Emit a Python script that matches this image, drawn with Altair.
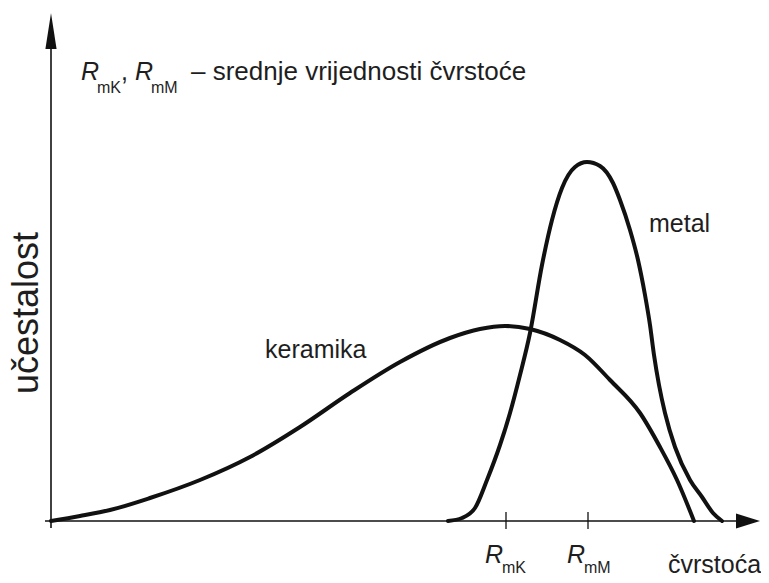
import altair as alt
import pandas as pd

# --- data (x: čvrstoća units, y: učestalost units) ---
ker_x = [0, 29, 59, 99, 149, 199, 249, 299, 349, 399, 429, 454, 479, 509, 534, 559, 589, 609, 626, 643]
ker_y = [0, 5, 11, 23, 41, 64, 94, 128, 159, 183, 192, 195, 192, 181, 166, 141, 108, 74, 41, 0]

met_x = [397, 411, 424, 436, 449, 459, 469, 479, 491, 501, 511, 524, 536, 549, 562,
         569, 579, 587, 594, 599, 603, 608, 614, 624, 639, 651, 662, 671]
met_y = [0, 3, 13, 41, 76, 108, 146, 188, 256, 301, 333, 354, 359, 355, 338,
         321, 291, 261, 226, 196, 166, 136, 108, 74, 41, 24, 8, 0]

tick_names = ["R_mK", "R_mM"]
tick_x = [455, 537]
tick_sub = ["mK", "mM"]

curve_names = ["keramika", "metal"]
y_title = "učestalost"
x_title = "čvrstoća"
note = "– srednje vrijednosti čvrstoće"

FONT = "Liberation Sans, Arial, sans-serif"
INK = "#111111"
TXT = "#1e1e1e"

xs = alt.Scale(domain=[-43, 710], nice=False, zero=False)
ys = alt.Scale(domain=[-54, 513], nice=False, zero=False)

curves = pd.DataFrame(
    {"x": ker_x + met_x,
     "y": ker_y + met_y,
     "s": ["keramika"] * len(ker_x) + ["metal"] * len(met_x)}
)

lines = alt.Chart(curves).mark_line(
    color=INK, strokeWidth=4, interpolate="monotone", strokeCap="round"
).encode(
    x=alt.X("x:Q", scale=xs, axis=None),
    y=alt.Y("y:Q", scale=ys, axis=None),
    detail="s:N",
)

# axes
axes_df = pd.DataFrame({"x": [-6, 0], "x2": [686, 0], "y": [0, -7], "y2": [0, 472]})
axes = alt.Chart(axes_df).mark_rule(color=INK, strokeWidth=1.6).encode(
    x=alt.X("x:Q", scale=xs, axis=None), x2="x2:Q",
    y=alt.Y("y:Q", scale=ys, axis=None), y2="y2:Q",
)

arrow_y = alt.Chart(pd.DataFrame({"x": [0], "y": [490]})).mark_point(
    shape="M0,-1L0.31,1L-0.31,1Z", size=1296, filled=True, color=INK, opacity=1, strokeWidth=0
).encode(x=alt.X("x:Q", scale=xs, axis=None), y=alt.Y("y:Q", scale=ys, axis=None))

arrow_x = alt.Chart(pd.DataFrame({"x": [697], "y": [0]})).mark_point(
    shape="M1,0L-1,-0.62L-1,0.62Z", size=576, filled=True, color=INK, opacity=1, strokeWidth=0
).encode(x=alt.X("x:Q", scale=xs, axis=None), y=alt.Y("y:Q", scale=ys, axis=None))

ticks_df = pd.DataFrame({"x": tick_x, "name": tick_names, "sub": tick_sub,
                         "t0": [9, 9], "t1": [-8, -8]})
ticks = alt.Chart(ticks_df).mark_rule(color=INK, strokeWidth=1.3).encode(
    x=alt.X("x:Q", scale=xs, axis=None),
    y=alt.Y("t0:Q", scale=ys, axis=None), y2="t1:Q",
)
tick_R = alt.Chart(ticks_df).mark_text(
    align="left", baseline="alphabetic", font=FONT, fontSize=25, fontStyle="italic",
    color=TXT, dx=-21
).encode(x=alt.X("x:Q", scale=xs, axis=None), y=alt.value(555), text=alt.value("R"))
tick_S = alt.Chart(ticks_df).mark_text(
    align="left", baseline="alphabetic", font=FONT, fontSize=16, color=TXT, dx=-4
).encode(x=alt.X("x:Q", scale=xs, axis=None), y=alt.value(565), text="sub:N")


def label(text, x, y, size, italic=False, angle=0, align="left"):
    return alt.Chart(pd.DataFrame({"t": [text]})).mark_text(
        align=align, baseline="alphabetic", font=FONT, fontSize=size,
        fontStyle="italic" if italic else "normal", color=TXT, angle=angle
    ).encode(x=alt.value(x), y=alt.value(y), text="t:N")


texts = [
    label("R", 73, 72, 25, italic=True),
    label(tick_sub[0], 89, 85, 16),
    label(",", 113, 72, 25),
    label("R", 127, 72, 25, italic=True),
    label(tick_sub[1], 143, 85, 16),
    label(note, 183, 72, 26),
    label(curve_names[0], 257, 350, 25),
    label(curve_names[1], 641, 224, 25),
    label(x_title, 660, 565, 25),
    label(y_title, 30, 305, 36, angle=270, align="center"),
]

chart = alt.layer(axes, arrow_y, arrow_x, ticks, lines, tick_R, tick_S, *texts).properties(
    width=753, height=567, autosize=alt.AutoSizeParams(type="none"), padding=0,
    background="white",
).configure_view(stroke=None)

chart.save("out.html", embed_options={"renderer": "svg", "actions": False})
